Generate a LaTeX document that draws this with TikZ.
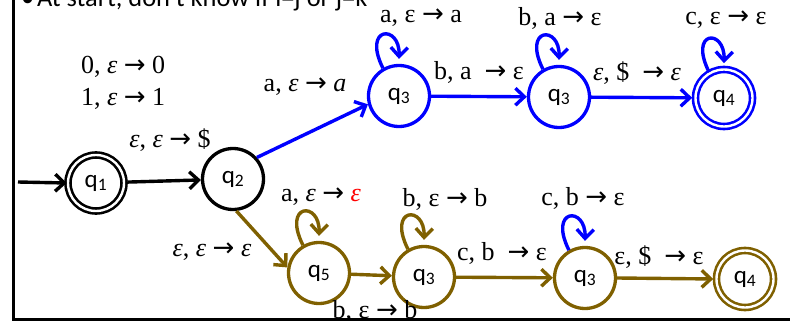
\documentclass[tikz,border=0pt]{standalone}
\usepackage{fontspec}
\usetikzlibrary{arrows.meta}
\newfontfamily\statefont{Carlito}
\newfontfamily\labfont{Liberation Serif}
\newfontfamily\arrfont{DejaVu Sans}
\definecolor{brn}{RGB}{127,96,0}
\definecolor{blu}{RGB}{0,0,255}
\newcommand{\qs}[1]{q\textsubscript{#1}}
\newcommand{\ar}{{\arrfont →}}
\newcommand{\ie}{\textit{ε}}
\begin{document}
\begin{tikzpicture}[x=1pt,y=1pt,
  stnode/.style={circle,draw,line width=3.3pt,minimum size=61pt,inner sep=0pt,
    font=\statefont\fontsize{25}{27}\selectfont},
  accnode/.style={stnode,double,double distance=2.4pt,line width=2.6pt,minimum size=56pt},
  trans/.style={line width=3.4pt,-{Straight Barb[length=9pt,width=17pt]}},
  lab/.style={font=\labfont\fontsize{26}{28}\selectfont,inner sep=0pt},
  topline/.style={font=\statefont\fontsize{26.4}{30}\selectfont,inner sep=0pt}
]
\useasboundingbox (0,0) rectangle (790,-321);
\begin{scope}
\clip (0,0) rectangle (790,-321);
% top text (clipped as in the reference)
\node[topline,anchor=base west] (bul) at (21,-7) {•};
\node[topline,anchor=base west] (title) at (37,-7) {At start, don't know if i=j or j=k};

% states
\node[accnode] (q1) at (96,-183) {\qs{1}};
\node[stnode] (q2) at (233,-179) {\qs{2}};
\node[stnode,draw=blu] (qa) at (399,-96) {\qs{3}};
\node[stnode,draw=blu] (qb) at (559,-97) {\qs{3}};
\node[accnode,draw=blu,minimum size=57pt] (qc) at (724,-98) {\qs{4}};
\node[stnode,draw=brn] (q5) at (319,-273) {\qs{5}};
\node[stnode,draw=brn] (qd) at (424,-277) {\qs{3}};
\node[stnode,draw=brn] (qe) at (585,-278) {\qs{3}};
\node[accnode,draw=brn,minimum size=57pt] (qf) at (745,-279) {\qs{4}};

\coordinate (st) at (18,-182);

% transitions
\draw[trans] (st) -- (q1.west);
\draw[trans,shorten <=2pt] (q1) -- (q2);
\draw[trans,blu] (q2.42) -- (qa.195);
\draw[trans,blu] (qa) -- (qb);
\draw[trans,blu,shorten >=2pt] (qb) -- (qc);
\draw[trans,brn] (q2.-84) -- (q5.170);
\draw[trans,brn] (q5) -- (qd);
\draw[trans,brn] (qd) -- (qe);
\draw[trans,brn,shorten >=2pt] (qe.east) -- (qf.west);

% self loops
\foreach \n/\c in {qa/blu,qb/blu,qc/blu,q5/brn,qd/brn,qe/blu}{
  \draw[trans,\c] (\n.120) .. controls +(-21,42) and +(1,35) .. ([shift={(0,5)}]\n.north);
}

% labels
\node[lab,anchor=west] (l0) at (81,-67) {0, \ie\ \ar\ 0};
\node[lab,anchor=west] (l1) at (81,-99) {1, \ie\ \ar\ 1};
\node[lab] (l12) at (170,-140) {\ie, \ie\ \ar\ \$};
\node[lab] (l2a) at (305,-87) {a, \ie\ \ar\ \textit{a}};
\node[lab] (laa) at (421,-18) {a, ε \ar\ a};
\node[lab] (lbb) at (560,-18) {b, a \ar\ ε};
\node[lab] (lcc) at (726,-20) {c, ε \ar\ ε};
\node[lab] (lab1) at (479,-72) {b, a \ \ar\ ε};
\node[lab] (lbc) at (637,-73) {\ie, \$ \ \ar\ \ie};

\node[lab] (l55) at (321,-197) {a, \ie\ \ar\ \textcolor{red}{\ie}};
\node[lab] (l25) at (212,-252) {\ie, \ie\ \ar\ \ie};
\node[lab] (ldd) at (445,-199) {b, ε \ar\ b};
\node[lab] (lee) at (583,-198) {c, b \ar\ ε};
\node[lab] (lde) at (502,-253) {c, b \ \ar\ ε};
\node[lab] (lef) at (659,-257) {ε, \$ \ \ar\ ε};
\node[lab] (l5d) at (375,-311) {b, ε \ar\ b};
\end{scope}
% frame
\draw[line width=3pt] (13,1) |- (792,-319.5);
\end{tikzpicture}
\end{document}
